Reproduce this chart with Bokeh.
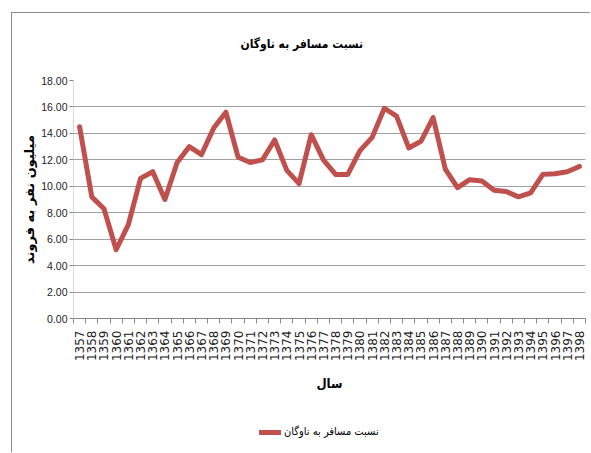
from bokeh.plotting import figure
from bokeh.layouts import column
from bokeh.models import (FixedTicker, NumeralTickFormatter, Range1d, Legend, LegendItem)
from bokeh.embed import file_html
from bokeh.resources import INLINE

years = list(range(1357, 1399))
ratio = [14.5, 9.2, 8.3, 5.2, 7.1, 10.6, 11.1, 9.0, 11.8, 13.0,
         12.4, 14.4, 15.6, 12.2, 11.8, 12.0, 13.5, 11.2, 10.2, 13.9,
         12.0, 10.9, 10.9, 12.7, 13.7, 15.9, 15.3, 12.9, 13.4, 15.2,
         11.3, 9.9, 10.5, 10.4, 9.7, 9.6, 9.2, 9.5, 10.9, 10.95,
         11.1, 11.5]
y_ticks = [0, 2, 4, 6, 8, 10, 12, 14, 16, 18]

title_text = "نسبت مسافر به ناوگان"
series_name = "نسبت مسافر به ناوگان"
x_label = "سال"
y_label = "میلیون نفر به فروند"

ARABIC = "DejaVu Sans Condensed, DejaVu Sans, sans-serif"
LINE_COLOR = "#C0504D"
BORDER = "#8c8c8c"

p = figure(width=590, height=412, output_backend="svg", toolbar_location=None,
           x_range=Range1d(years[0] - 0.5, years[-1] + 0.5), y_range=Range1d(0, 18),
           min_border_left=73, min_border_right=5, min_border_top=80, min_border_bottom=94)
p.styles = {"box-shadow": f"inset 11px 12px 0 0 white, inset 12px 13px 0 0 {BORDER}"}

p.title.text = title_text
p.title.text_font = ARABIC
p.title.text_font_size = "12px"
p.title.text_font_style = "bold"
p.title.align = "left"
p.title.offset = 167
p.title.standoff = 60
p.title.text_color = "#000000"

p.outline_line_color = None
p.background_fill_color = "white"
p.border_fill_color = None

r = p.line(years, ratio, line_color=LINE_COLOR, line_width=5, line_join="round", line_cap="round")

# x axis
p.xaxis.ticker = FixedTicker(ticks=years, minor_ticks=[y - 0.5 for y in years] + [years[-1] + 0.5])
p.xaxis.major_label_orientation = 1.5708
p.xaxis.major_tick_line_color = None
p.xaxis.minor_tick_line_color = "#888888"
p.xaxis.minor_tick_out = 5
p.xaxis.minor_tick_in = 0
p.xaxis.axis_line_color = "#888888"
p.xaxis.major_label_text_font = "DejaVu Sans"
p.xaxis.major_label_text_font_size = "12px"
p.xaxis.major_label_text_color = "#222222"
p.xaxis.major_label_standoff = 6
p.xaxis.axis_label = x_label
p.xaxis.axis_label_text_font = ARABIC
p.xaxis.axis_label_text_font_size = "13px"
p.xaxis.axis_label_text_font_style = "bold"
p.xaxis.axis_label_text_color = "#000000"
p.xaxis.axis_label_standoff = 12

# y axis
p.yaxis.ticker = FixedTicker(ticks=y_ticks)
p.yaxis.formatter = NumeralTickFormatter(format="0.00")
p.yaxis.minor_tick_line_color = None
p.yaxis.major_tick_line_color = "#888888"
p.yaxis.major_tick_out = 4
p.yaxis.major_tick_in = 0
p.yaxis.axis_line_color = "#d9d9d9"
p.yaxis.major_label_text_font = "Liberation Sans"
p.yaxis.major_label_text_font_size = "10.5px"
p.yaxis.major_label_text_color = "#222222"
p.yaxis.major_label_standoff = 2
p.yaxis.axis_label = y_label
p.yaxis.axis_label_text_font = "DejaVu Sans"
p.yaxis.axis_label_text_font_size = "13px"
p.yaxis.axis_label_text_font_style = "bold"
p.yaxis.axis_label_text_color = "#000000"
p.yaxis.axis_label_standoff = 1

p.xgrid.grid_line_color = None
p.ygrid.ticker = FixedTicker(ticks=y_ticks)
p.ygrid.grid_line_color = "#a0a0a0"
p.ygrid.grid_line_width = 1

# legend strip below the chart (same series, drawn outside the strip's ranges)
lg = figure(width=590, height=40, output_backend="svg", toolbar_location=None,
            x_range=Range1d(0, 1), y_range=Range1d(0, 1),
            min_border_left=0, min_border_right=0, min_border_top=0, min_border_bottom=0)
lg.styles = {"box-shadow": f"inset 11px 0 0 0 white, inset 12px 0 0 0 {BORDER}"}
lg.axis.visible = False
lg.grid.visible = False
lg.outline_line_color = None
lg.background_fill_color = None
lg.border_fill_color = None
r2 = lg.line(years, ratio, line_color=LINE_COLOR, line_width=5, line_join="round", line_cap="round")

legend = Legend(items=[LegendItem(label=series_name, renderers=[r2])],
                location=(186, 14), orientation="horizontal",
                border_line_color=None, background_fill_alpha=0,
                padding=0, margin=0, glyph_width=22, glyph_height=12,
                label_height=12, label_standoff=3,
                label_text_font=ARABIC, label_text_font_size="11px",
                label_text_color="#000000")
lg.add_layout(legend, "center")

layout = column(p, lg, spacing=0)
open("out.html", "w").write(file_html(layout, INLINE))
